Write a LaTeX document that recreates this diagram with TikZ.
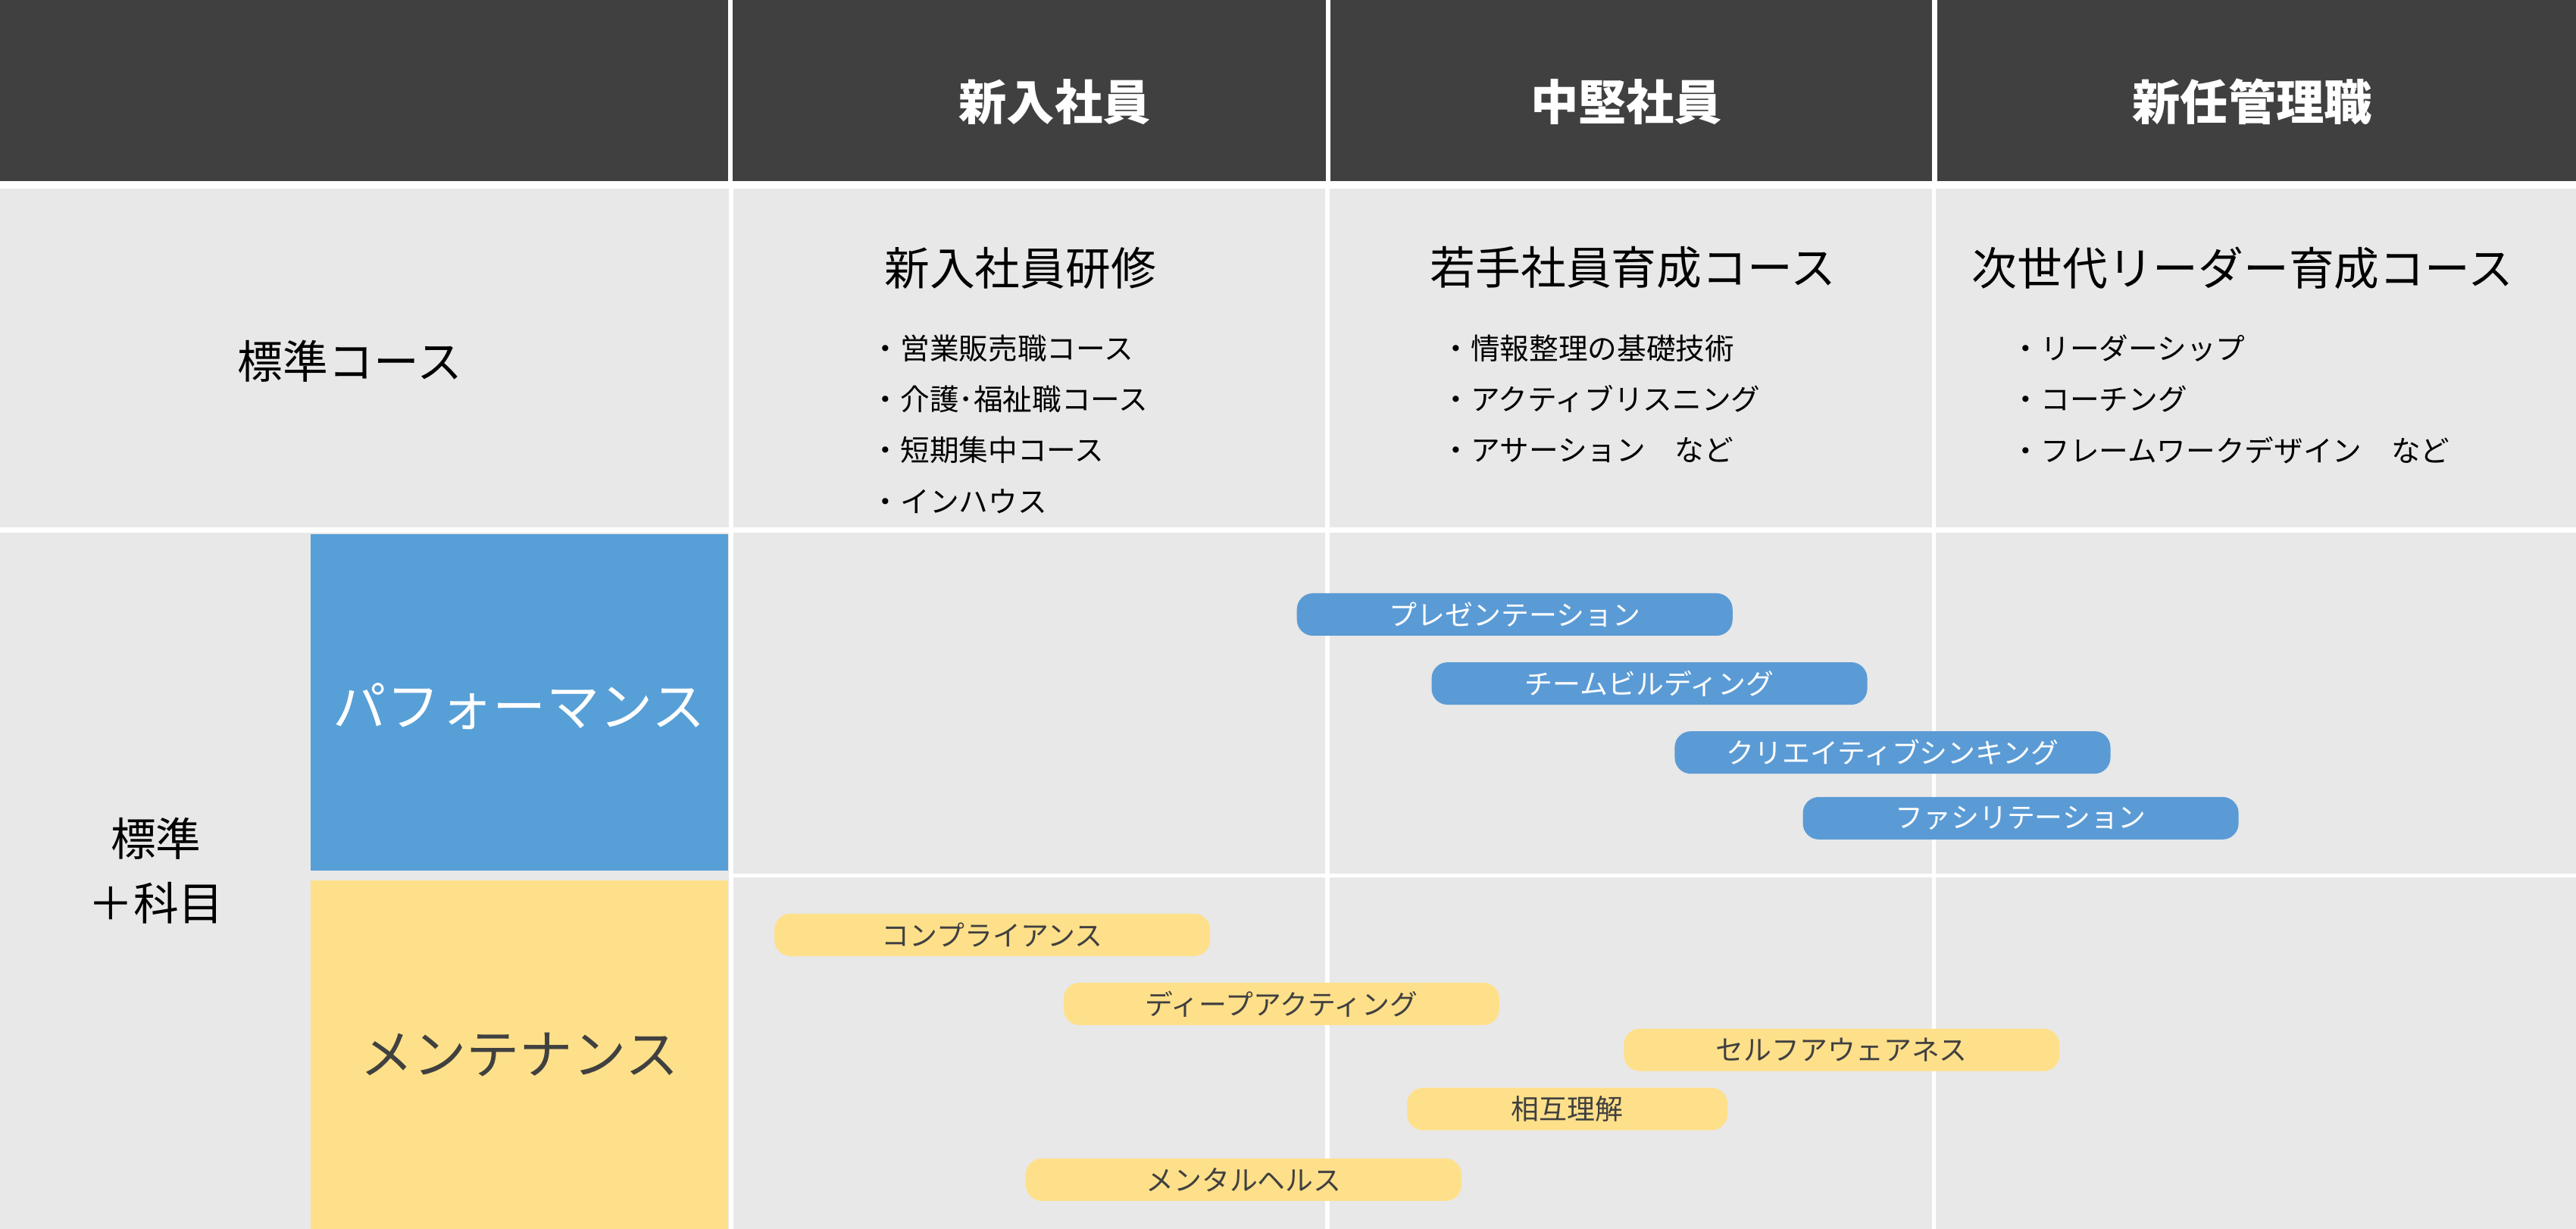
\documentclass[tikz,border=0pt]{standalone}
\usepackage{fontspec}
\setmainfont{Noto Sans CJK JP}
\usetikzlibrary{positioning}
\definecolor{hdr}{HTML}{404040}
\definecolor{cellgray}{HTML}{E8E8E8}
\definecolor{perfblue}{HTML}{579FD7}
\definecolor{pillblue}{HTML}{5B9BD5}
\definecolor{mainyel}{HTML}{FFE08A}
\tikzset{
  head/.style={text=white,font=\fontsize{18}{20}\selectfont\bfseries},
  ctitle/.style={font=\fontsize{17}{20}\selectfont},
  item/.style={anchor=west,font=\fontsize{11}{13}\selectfont,inner sep=0pt},
  bpill/.style={fill=pillblue,text=white,rounded corners=6pt,minimum height=0.56cm,font=\fontsize{10.5}{12}\selectfont,inner sep=0pt},
  ypill/.style={fill=mainyel,text=hdr,rounded corners=6pt,minimum height=0.56cm,font=\fontsize{10.5}{12}\selectfont,inner sep=0pt}
}
\begin{document}
\begin{tikzpicture}[x=0.021684cm,y=-0.021684cm]
\useasboundingbox (0,0) rectangle (1568,748);
\fill[white] (0,0) rectangle (1568,748);
% header row
\fill[hdr] (0,0) rectangle (443,110);
\fill[hdr] (446,0) rectangle (807,110);
\fill[hdr] (810,0) rectangle (1176,110);
\fill[hdr] (1179,0) rectangle (1568,110);
% body cells
\fill[cellgray] (0,115) rectangle (1568,321);
\fill[cellgray] (0,324) rectangle (1568,748);
\draw[white,line width=1.5pt] (445,115) -- (445,748);
\draw[white,line width=1.5pt] (808,115) -- (808,748);
\draw[white,line width=1.5pt] (1177,115) -- (1177,748);
\draw[white,line width=1.5pt] (445,533) -- (1568,533);
\fill[perfblue] (189,325) rectangle (443,530);
\fill[mainyel] (189,536) rectangle (443,748);
% header texts
\node[head] (hNew) at (642,62) {新入社員};
\node[head] (hMid) at (990,62) {中堅社員};
\node[head] (hMgr) at (1371,62) {新任管理職};
% standard course
\node[font=\fontsize{17}{20}\selectfont] (std) at (213,220) {標準コース};
\node[ctitle] (tNew) at (621,163) {新入社員研修};
\node[ctitle] (tMid) at (994,163) {若手社員育成コース};
\node[ctitle] (tMgr) at (1365,163) {次世代リーダー育成コース};
\node[item] (n1) at (530,212) {・営業販売職コース};
\node[item] (n2) at (530,243) {・介護･福祉職コース};
\node[item] (n3) at (530,274) {・短期集中コース};
\node[item] (n4) at (530,305) {・インハウス};
\node[item] (m1) at (877,212) {・情報整理の基礎技術};
\node[item] (m2) at (877,243) {・アクティブリスニング};
\node[item] (m3) at (877,274) {・アサーション　など};
\node[item] (g1) at (1224,212) {・リーダーシップ};
\node[item] (g2) at (1224,243) {・コーチング};
\node[item] (g3) at (1224,274) {・フレームワークデザイン　など};
% subjects
\node[font=\fontsize{17}{24}\selectfont,align=center] (plus) at (95,530) {標準\\＋科目};
\node[text=white,font=\fontsize{20}{24}\selectfont] (perf) at (316,430) {パフォーマンス};
\node[text=hdr,font=\fontsize{20}{24}\selectfont] (mnt) at (316,642) {メンテナンス};
% pills
\node[bpill,minimum width=5.75cm] (p1) at (922,374) {プレゼンテーション};
\node[bpill,minimum width=5.75cm] (p2) at (1004,416) {チームビルディング};
\node[bpill,minimum width=5.75cm] (p3) at (1152,458) {クリエイティブシンキング};
\node[bpill,minimum width=5.75cm] (p4) at (1230,498) {ファシリテーション};
\node[ypill,minimum width=5.75cm] (y1) at (604,569) {コンプライアンス};
\node[ypill,minimum width=5.75cm] (y2) at (780,611) {ディープアクティング};
\node[ypill,minimum width=5.75cm] (y3) at (1121,639) {セルフアウェアネス};
\node[ypill,minimum width=4.23cm] (y4) at (954,675) {相互理解};
\node[ypill,minimum width=5.75cm] (y5) at (757,718) {メンタルヘルス};
\end{tikzpicture}
\end{document}
